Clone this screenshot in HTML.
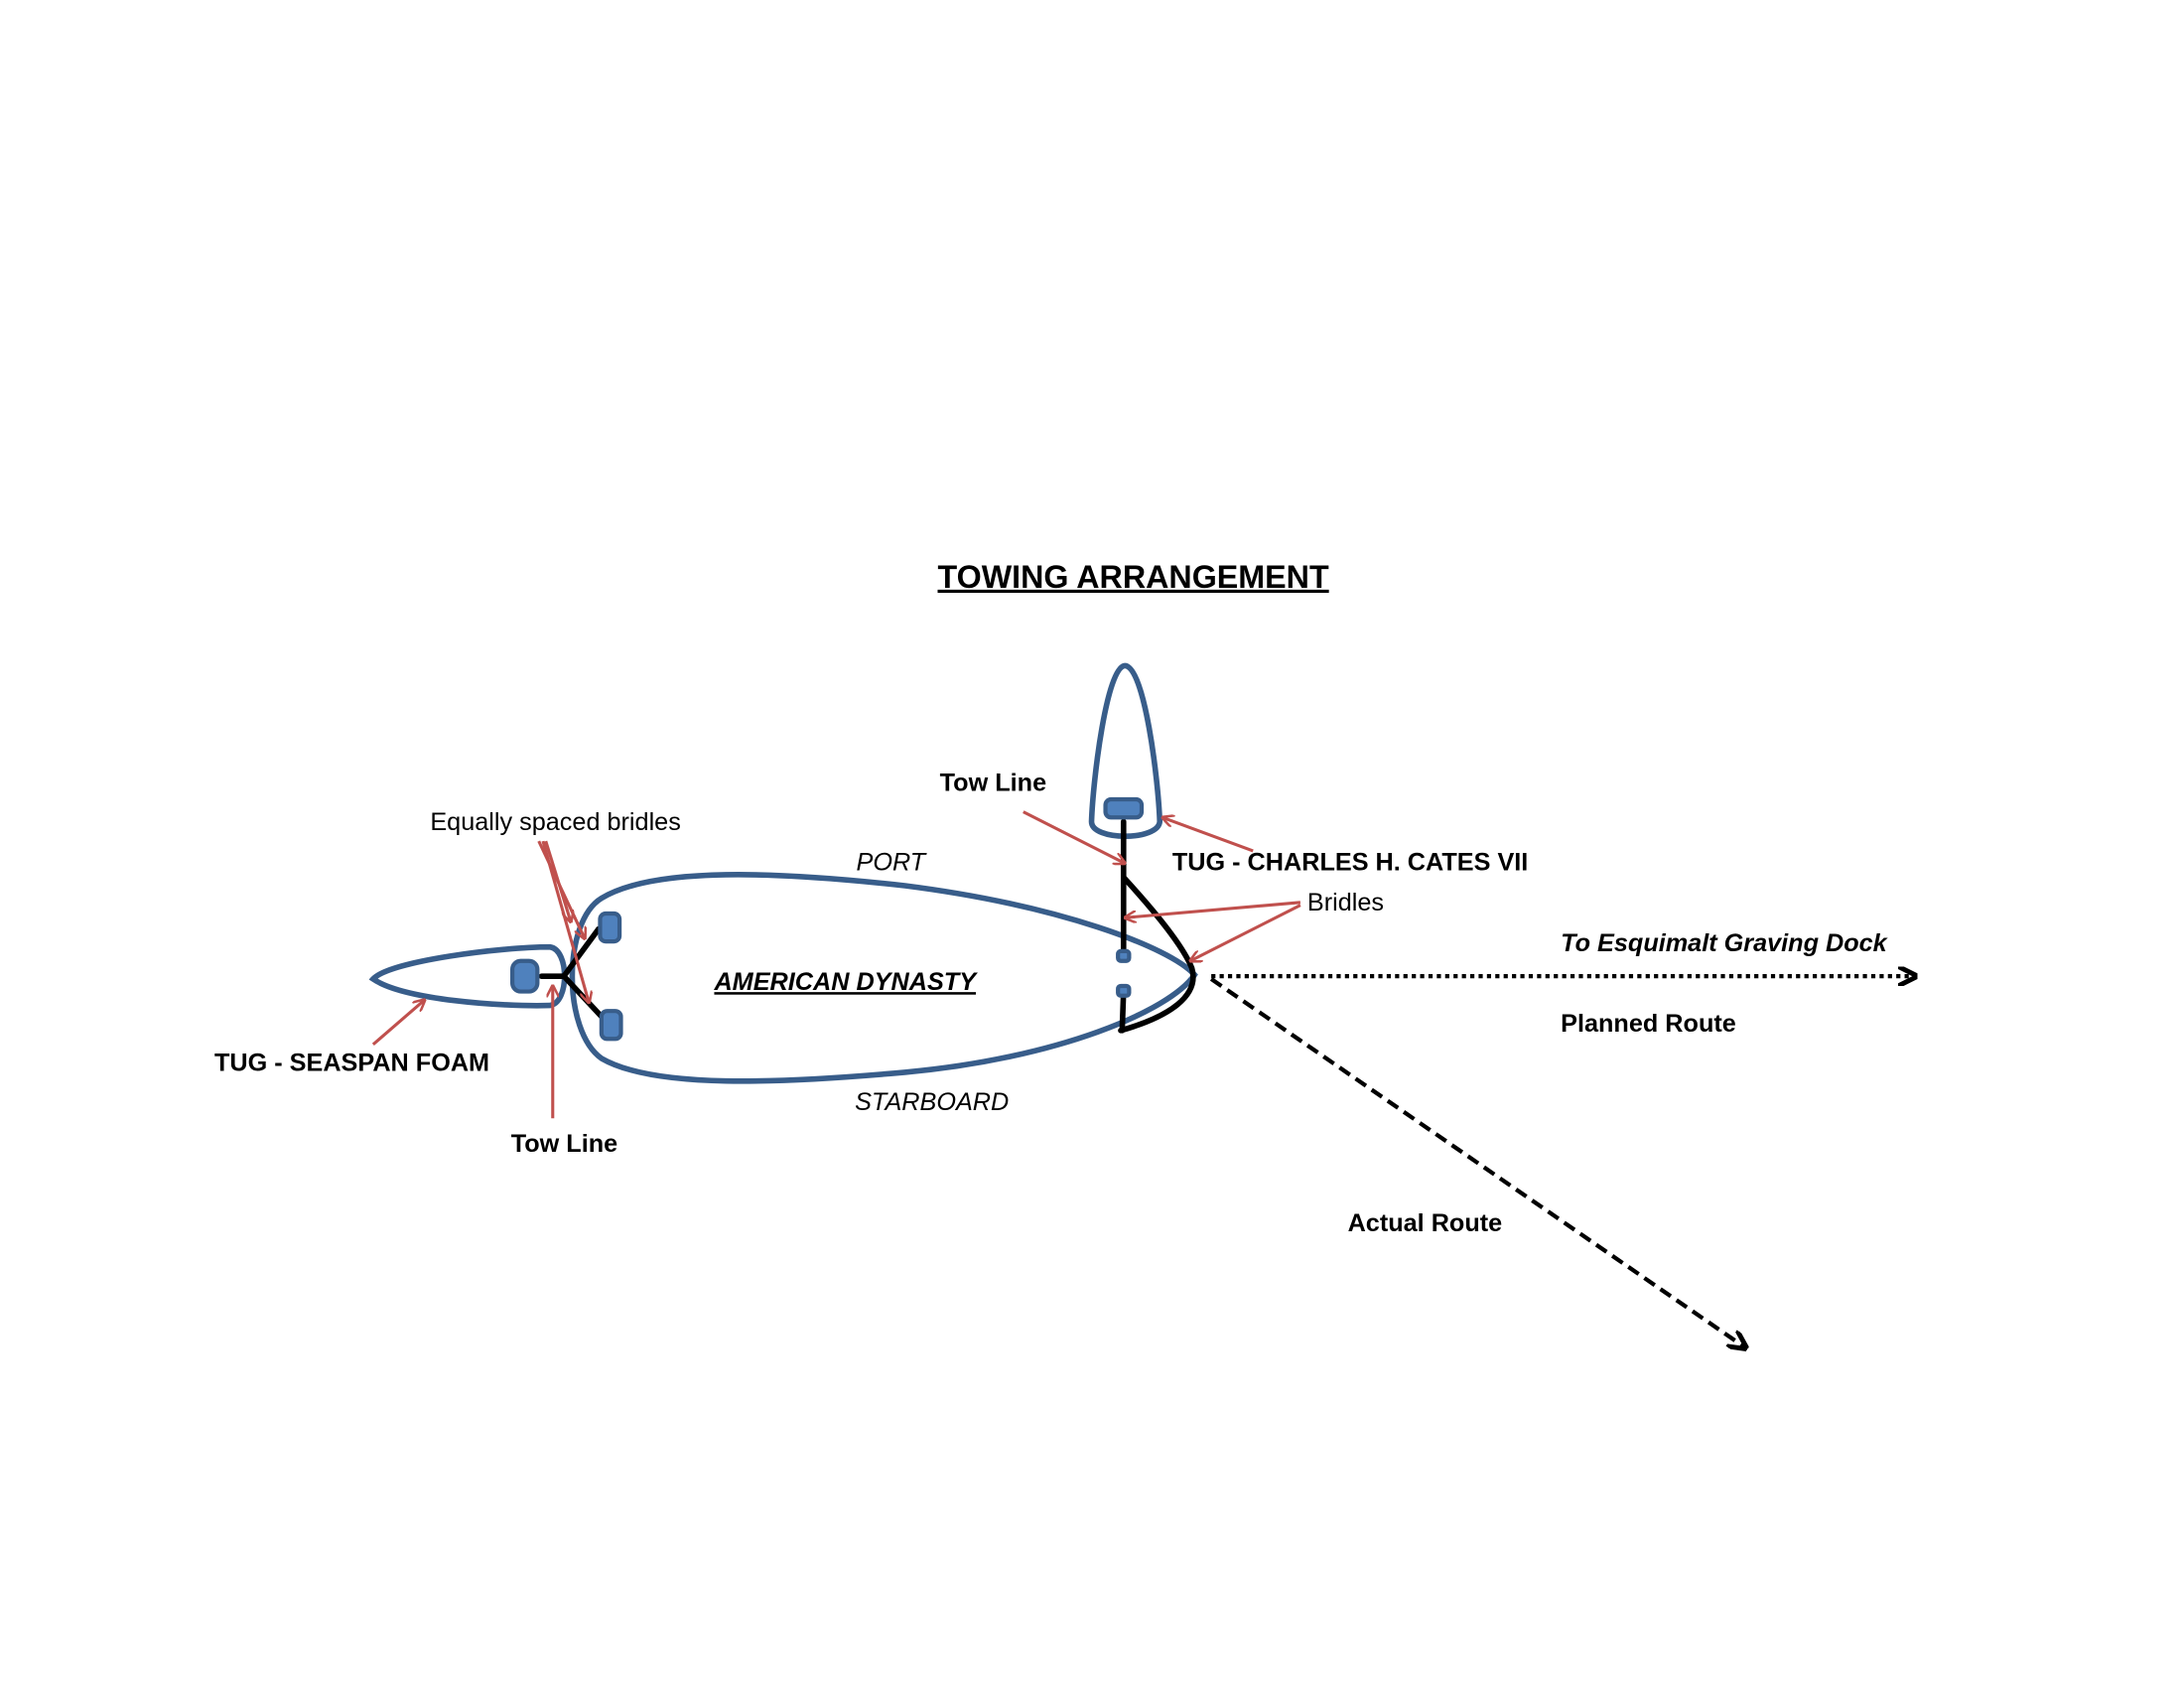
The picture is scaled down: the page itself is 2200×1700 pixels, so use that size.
<!DOCTYPE html>
<html><head><meta charset="utf-8"><style>
html,body{margin:0;padding:0;background:#fff;}
svg{display:block;}
text{font-family:"Liberation Sans",sans-serif;}
</style></head><body>
<svg width="2200" height="1700" viewBox="0 0 1553 1200" xmlns="http://www.w3.org/2000/svg">
<defs>
<marker id="ra" viewBox="0 0 10 10" refX="9" refY="5" markerWidth="9" markerHeight="9" orient="auto" markerUnits="userSpaceOnUse">
<path d="M0,0 L10,5 L0,10" fill="none" stroke="#c0504d" stroke-width="2"/></marker>
<marker id="ba" viewBox="0 0 10 10" refX="9" refY="5" markerWidth="14" markerHeight="14" orient="auto" markerUnits="userSpaceOnUse">
<path d="M0,0 L10,5 L0,10" fill="none" stroke="#000" stroke-width="2.5"/></marker>
</defs>
<rect width="1553" height="1200" fill="#fff"/>
<g transform="scale(0.99)">
<text x="814" y="422" font-size="23" font-weight="bold" text-anchor="middle" text-decoration="underline">TOWING ARRANGEMENT</text>

<path d="M858,700 C840,680 760,650 650,636 C560,626 470,622 432,645 C404,662 404,740 432,760 C470,782 560,778 650,770 C760,760 840,726 858,700 Z" fill="none" stroke="#385d8a" stroke-width="4"/>
<path d="M268,703 C280,690 360,680 395,680 C409,682 409,720 395,722 C360,723 290,718 268,703 Z" fill="none" stroke="#385d8a" stroke-width="4"/>
<path d="M808,478 C795,478 785,560 784,590 C784,604 832,604 833,590 C832,560 822,478 808,478 Z" fill="none" stroke="#385d8a" stroke-width="4"/>

<g stroke="#000" stroke-width="4" fill="none" stroke-linecap="round">
<line x1="389" y1="701" x2="405" y2="701"/>
<line x1="405" y1="701" x2="430" y2="667"/>
<line x1="405" y1="701" x2="433" y2="731"/>
<line x1="807" y1="590" x2="807" y2="688"/>
<path d="M807,630 C830,655 850,680 856,695 C862,715 840,730 805,740"/>
<line x1="806" y1="740" x2="807" y2="712"/>
</g>

<g fill="#4f81bd" stroke="#385d8a" stroke-width="3">
<rect x="368" y="690" width="18" height="22" rx="6"/>
<rect x="431" y="656" width="14" height="20" rx="4"/>
<rect x="432" y="726" width="14" height="20" rx="4"/>
<rect x="794" y="574" width="26" height="13" rx="4"/>
<rect x="803" y="683" width="8" height="7" rx="2"/>
<rect x="803" y="708" width="8" height="7" rx="2"/>
</g>

<g stroke="#c0504d" stroke-width="2.2" fill="none" marker-end="url(#ra)">
<line x1="387" y1="604" x2="420" y2="674"/>
<line x1="390" y1="604" x2="423" y2="720"/>
<line x1="392" y1="604" x2="410" y2="662"/>
<line x1="397" y1="803" x2="397" y2="708"/>
<line x1="268" y1="750" x2="305" y2="718"/>
<line x1="735" y1="583" x2="808" y2="620"/>
<line x1="900" y1="611" x2="835" y2="587"/>
<line x1="934" y1="648" x2="808" y2="659"/>
<line x1="934" y1="650" x2="855" y2="690"/>
</g>

<line x1="870" y1="701" x2="1376" y2="701" stroke="#000" stroke-width="3" stroke-dasharray="3,3" marker-end="url(#ba)"/>
<line x1="870" y1="703" x2="1254" y2="968" stroke="#000" stroke-width="3" stroke-dasharray="9,5" marker-end="url(#ba)"/>

<g font-size="18">
<text x="309" y="596">Equally spaced bridles</text>
<text x="675" y="568" font-weight="bold">Tow Line</text>
<text x="615" y="625" font-style="italic">PORT</text>
<text x="842" y="625" font-weight="bold">TUG - CHARLES H. CATES VII</text>
<text x="939" y="654">Bridles</text>
<text x="1121" y="683" font-weight="bold" font-style="italic">To Esquimalt Graving Dock</text>
<text x="513" y="711" font-weight="bold" font-style="italic" text-decoration="underline">AMERICAN DYNASTY</text>
<text x="1121" y="741" font-weight="bold">Planned Route</text>
<text x="154" y="769" font-weight="bold">TUG - SEASPAN FOAM</text>
<text x="614" y="797" font-style="italic">STARBOARD</text>
<text x="367" y="827" font-weight="bold">Tow Line</text>
<text x="968" y="884" font-weight="bold">Actual Route</text>
</g>
</g>
</svg>
</body></html>
